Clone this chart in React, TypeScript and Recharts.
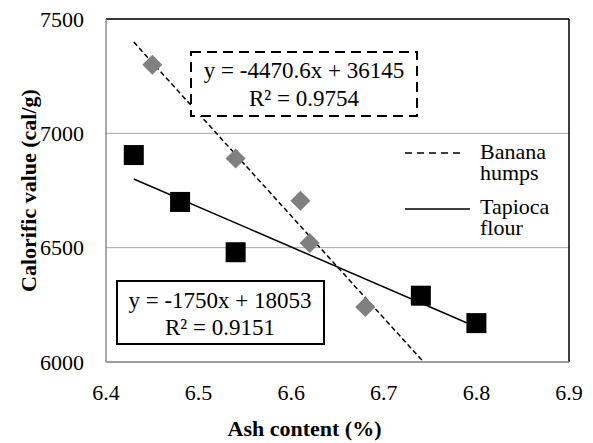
import React from 'react';
import { ComposedChart, Scatter, XAxis, YAxis, CartesianGrid, ReferenceLine, Legend } from 'recharts';

const FONT = '"Liberation Serif", "Times New Roman", Times, serif';

// values
const bananaAsh = [6.45, 6.54, 6.61, 6.62, 6.68];
const bananaCal = [7300, 6890, 6705, 6520, 6240];
const tapiocaAsh = [6.43, 6.48, 6.54, 6.74, 6.8];
const tapiocaCal = [6905, 6700, 6480, 6290, 6170];

// trendlines as printed in the boxes
const bananaFit = { slope: -4470.6, intercept: 36145, r2: 0.9754, from: 6.43 };
const tapiocaFit = { slope: -1750, intercept: 18053, r2: 0.9151, from: 6.43, to: 6.8 };

const xTicks = [6.4, 6.5, 6.6, 6.7, 6.8, 6.9];
const yTicks = [6000, 6500, 7000, 7500];
const legendNames = ['Banana humps', 'Tapioca flour'];

const banana = bananaAsh.map((x, i) => ({ x, y: bananaCal[i] }));
const tapioca = tapiocaAsh.map((x, i) => ({ x, y: tapiocaCal[i] }));

const fitY = (f: { slope: number; intercept: number }, x: number) => f.slope * x + f.intercept;
const bananaTo = (bananaFit.intercept - yTicks[0]) / -bananaFit.slope;

const Square = (p: any) => <rect x={p.cx - 10} y={p.cy - 10} width={20} height={20} fill="#000" />;
const Diamond = (p: any) => (
  <polygon
    points={`${p.cx},${p.cy - 10} ${p.cx + 10},${p.cy} ${p.cx},${p.cy + 10} ${p.cx - 10},${p.cy}`}
    fill="#808080"
  />
);

const tickStyle = { fill: '#000', fontSize: 22, fontFamily: FONT };

const renderLegend = () => (
  <div style={{ position: 'relative', width: 170, height: 110, fontFamily: FONT, fontSize: 22, lineHeight: '21px', color: '#000' }}>
    <svg width={70} height={90} style={{ position: 'absolute', left: 0, top: 0 }}>
      <line x1={5} x2={63} y1={13} y2={13} stroke="#000" strokeWidth={1.5} strokeDasharray="7 5" />
      <line x1={5} x2={72} y1={69} y2={69} stroke="#000" strokeWidth={1.5} />
    </svg>
    <div style={{ position: 'absolute', left: 80, top: 1, width: 85 }}>{legendNames[0]}</div>
    <div style={{ position: 'absolute', left: 80, top: 56, width: 85 }}>{legendNames[1]}</div>
  </div>
);

const eqText = (f: { slope: number; intercept: number }) => `y = ${f.slope}x + ${f.intercept}`;

export default function App() {
  return (
    <div style={{ position: 'absolute', left: 0, top: 0, width: 593, height: 443, background: '#fff', fontFamily: FONT }}>
      <ComposedChart width={593} height={443} margin={{ top: 19, right: 24, left: 0, bottom: 0 }} style={{ fontFamily: FONT }}>
        <CartesianGrid horizontal vertical={false} stroke="#a6a6a6" strokeWidth={1} />
        <XAxis
          type="number"
          dataKey="x"
          domain={[6.4, 6.9]}
          ticks={xTicks}
          allowDataOverflow
          height={81}
          tickFormatter={(v: number) => v.toFixed(1)}
          tick={tickStyle}
          tickLine={false}
          tickSize={0}
          tickMargin={22}
          axisLine={{ stroke: '#8c8c8c', strokeWidth: 1.5 }}
          label={{ value: 'Ash content (%)', position: 'center', dx: -33, dy: 26, fill: '#000', fontSize: 22, fontWeight: 'bold', fontFamily: FONT }}
        />
        <YAxis
          type="number"
          dataKey="y"
          domain={[6000, 7500]}
          ticks={yTicks}
          allowDataOverflow
          width={106}
          tick={tickStyle}
          tickLine={false}
          tickSize={0}
          tickMargin={22}
          axisLine={{ stroke: '#8c8c8c', strokeWidth: 1.5 }}
          label={{ value: 'Calorific value (cal/g)', angle: -90, position: 'center', dx: -25, fill: '#000', fontSize: 22, fontWeight: 'bold', fontFamily: FONT }}
        />
        <ReferenceLine y={7500} stroke="#000" strokeWidth={1.5} />
        <ReferenceLine x={6.9} stroke="#000" strokeWidth={1.5} />
        <Scatter name="Banana humps" data={banana} shape={Diamond} isAnimationActive={false} legendType="none" />
        <Scatter name="Tapioca flour" data={tapioca} shape={Square} isAnimationActive={false} legendType="none" />
        <ReferenceLine
          segment={[
            { x: bananaFit.from, y: fitY(bananaFit, bananaFit.from) },
            { x: bananaTo, y: fitY(bananaFit, bananaTo) },
          ]}
          stroke="#000"
          strokeWidth={1.5}
          strokeDasharray="5 3"
          ifOverflow="visible"
        />
        <ReferenceLine
          segment={[
            { x: tapiocaFit.from, y: fitY(tapiocaFit, tapiocaFit.from) },
            { x: tapiocaFit.to, y: fitY(tapiocaFit, tapiocaFit.to) },
          ]}
          stroke="#000"
          strokeWidth={1.5}
          ifOverflow="visible"
        />
        <Legend
          layout="vertical"
          align="center"
          verticalAlign="middle"
          content={renderLegend}
          wrapperStyle={{ position: 'absolute', left: 400, top: 140, width: 170 }}
        />
      </ComposedChart>
      <svg width={593} height={443} style={{ position: 'absolute', left: 0, top: 0, pointerEvents: 'none' }}>
        <g fontFamily={FONT} fontSize={23} fill="#000" textAnchor="middle">
          <rect x={191} y={52} width={226} height={64} fill="#fff" stroke="#000" strokeWidth={2} strokeDasharray="10 6" />
          <text x={304} y={78}>{eqText(bananaFit)}</text>
          <text x={304} y={106}>{`R² = ${bananaFit.r2}`}</text>
          <rect x={117} y={281} width={207} height={63} fill="#fff" stroke="#000" strokeWidth={2} />
          <text x={220} y={308}>{eqText(tapiocaFit)}</text>
          <text x={220} y={335}>{`R² = ${tapiocaFit.r2}`}</text>
        </g>
      </svg>
    </div>
  );
}
